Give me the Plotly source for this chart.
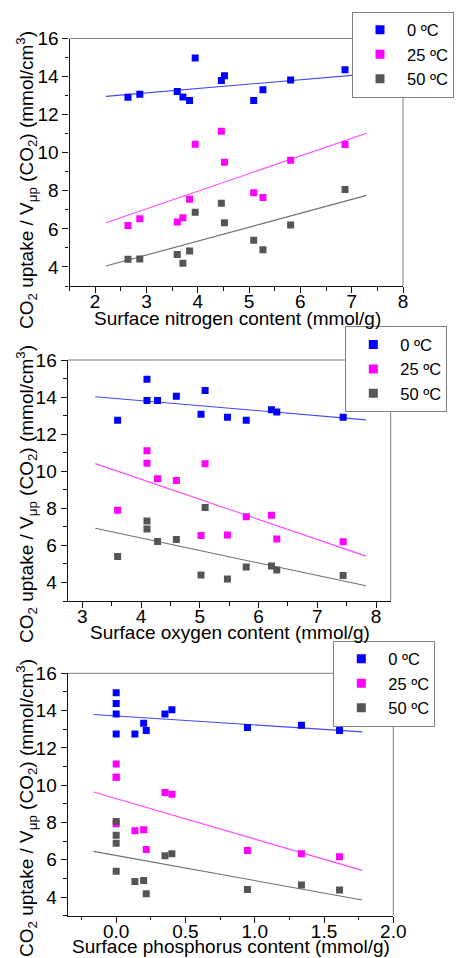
import plotly.graph_objects as go

# ---------------- data ----------------
# Panel 1: surface nitrogen content (mmol/g)
n_x = [2.64, 2.87, 3.60, 3.71, 3.84, 3.95, 4.46, 4.52, 5.09, 5.27, 5.81, 6.87]
n_0C = [12.91, 13.07, 13.21, 12.93, 12.75, 14.97, 13.80, 14.04, 12.75, 13.31, 13.82, 14.36]
n_25C = [6.18, 6.53, 6.36, 6.59, 7.56, 10.45, 11.13, 9.50, 7.90, 7.65, 9.61, 10.43]
n_50C = [4.40, 4.42, 4.66, 4.19, 4.84, 6.88, 7.34, 6.32, 5.40, 4.91, 6.20, 8.07]
n_fit_x = [2.21, 7.29]
n_fit_0C = [12.96, 14.13]
n_fit_25C = [6.32, 11.02]
n_fit_50C = [4.05, 7.76]

# Panel 2: surface oxygen content (mmol/g)
o_x = [3.60, 4.10, 4.10, 4.28, 4.60, 5.02, 5.09, 5.47, 5.79, 6.22, 6.31, 7.44]
o_0C = [12.75, 14.96, 13.81, 13.81, 14.04, 13.07, 14.35, 12.91, 12.75, 13.31, 13.20, 12.91]
o_25C = [7.90, 11.11, 10.43, 9.59, 9.50, 6.53, 10.41, 6.56, 7.55, 7.63, 6.35, 6.19]
o_50C = [5.40, 7.32, 6.89, 6.21, 6.32, 4.40, 8.05, 4.18, 4.83, 4.89, 4.67, 4.38]
o_fit_x = [3.22, 7.83]
o_fit_0C = [14.02, 12.77]
o_fit_25C = [10.41, 5.42]
o_fit_50C = [6.92, 3.82]

# Panel 3: surface phosphorus content (mmol/g)
p_x = [0.0, 0.0, 0.0, 0.0, 0.135, 0.198, 0.217, 0.352, 0.402, 0.947, 1.337, 1.612]
p_0C = [14.96, 14.38, 13.82, 12.75, 12.75, 13.32, 12.93, 13.82, 14.05, 13.09, 13.21, 12.93]
p_25C = [11.13, 10.43, 10.43, 7.93, 7.55, 7.61, 6.55, 9.61, 9.52, 6.50, 6.32, 6.16]
p_50C = [8.05, 7.32, 6.89, 5.39, 4.84, 4.89, 4.18, 6.21, 6.32, 4.41, 4.64, 4.38]
p_fit_x = [-0.164, 1.776]
p_fit_0C = [13.79, 12.86]
p_fit_25C = [9.63, 5.43]
p_fit_50C = [6.45, 3.84]

series_names = ["0 ºC", "25 ºC", "50 ºC"]
x_titles = ["Surface nitrogen content (mmol/g)",
            "Surface oxygen content (mmol/g)",
            "Surface phosphorus content (mmol/g)"]
y_title = "CO<sub>2</sub> uptake / V<sub>μp</sub> (CO<sub>2</sub>) (mmol/cm<sup>3</sup>)"

# ---------------- style ----------------
W, H = 457, 958
FONT = "Liberation Sans, Arial, sans-serif"
marker_colors = ["#0000FF", "#FF00FF", "#555555"]
line_colors = ["rgb(70,70,255)", "rgb(255,70,255)", "rgb(110,110,110)"]

panels = [
    dict(x=n_x, ys=[n_0C, n_25C, n_50C], fx=n_fit_x, fys=[n_fit_0C, n_fit_25C, n_fit_50C],
         px=(69.5, 403), py=(38.5, 286), xr=[1.5, 8], dtick=1, mdtick=0.5, fmt="",
         leg=(352, 11.5), xt=(237, 318), yt=(26, 180)),
    dict(x=o_x, ys=[o_0C, o_25C, o_50C], fx=o_fit_x, fys=[o_fit_0C, o_fit_25C, o_fit_50C],
         px=(67.7, 390.7), py=(360, 601), xr=[2.75, 8.25], dtick=1, mdtick=0.5, fmt="",
         leg=(345.3, 326.2), xt=(230, 632), yt=(26, 494)),
    dict(x=p_x, ys=[p_0C, p_25C, p_50C], fx=p_fit_x, fys=[p_fit_0C, p_fit_25C, p_fit_50C],
         px=(67.7, 393.3), py=(673.3, 915.7), xr=[-0.35, 2.0], dtick=0.5, mdtick=0.25, fmt=".1f",
         leg=(333.3, 640.5), xt=(231, 946.5), yt=(26, 808)),
]

fig = go.Figure()
layout = dict(
    width=W, height=H,
    margin=dict(l=0, r=0, t=0, b=0, autoexpand=False),
    paper_bgcolor="white", plot_bgcolor="white",
    font=dict(family=FONT, color="black"),
    showlegend=True,
)
annotations = []
shapes = []

for i, p in enumerate(panels):
    k = "" if i == 0 else str(i + 1)
    xa, ya = "x" + k, "y" + k
    lg = "legend" + k
    # fit lines
    for s in range(3):
        fig.add_trace(go.Scatter(x=p["fx"], y=p["fys"][s], mode="lines",
                                 line=dict(color=line_colors[s], width=1.1),
                                 showlegend=False, hoverinfo="skip",
                                 xaxis=xa, yaxis=ya))
    # data markers
    for s in range(3):
        fig.add_trace(go.Scatter(x=p["x"], y=p["ys"][s], mode="markers",
                                 marker=dict(symbol="square", size=7, color=marker_colors[s],
                                             line=dict(width=0)),
                                 name=series_names[s], showlegend=False,
                                 xaxis=xa, yaxis=ya))
    # legend entries
    for s in range(3):
        fig.add_trace(go.Scatter(x=[None], y=[None], mode="markers",
                                 marker=dict(symbol="square", size=9, color=marker_colors[s],
                                             line=dict(width=0)),
                                 name=series_names[s], showlegend=True, legend=lg,
                                 xaxis=xa, yaxis=ya))
    x0, x1 = p["px"]
    y0, y1 = p["py"]
    axcommon = dict(showgrid=False, zeroline=False, showline=True, linecolor="#111",
                    linewidth=1.3, ticks="outside", ticklen=6, tickwidth=1.3,
                    tickcolor="#111", tickfont=dict(size=19, family=FONT, color="black"))
    layout["xaxis" + k] = dict(
        domain=[x0 / W, x1 / W], range=p["xr"], dtick=p["dtick"], tick0=0,
        tickformat=p["fmt"], anchor=ya, ticklabelstandoff=-8,
        minor=dict(dtick=p["mdtick"], ticks="outside", ticklen=3.5, tickwidth=1.3,
                   tickcolor="#111", showgrid=False),
        **axcommon)
    layout["yaxis" + k] = dict(
        domain=[1 - y1 / H, 1 - y0 / H], range=[3, 16], dtick=2, tick0=0, anchor=xa,
        minor=dict(dtick=1, ticks="outside", ticklen=3.5, tickwidth=1.3,
                   tickcolor="#111", showgrid=False),
        **axcommon)
    # top / right frame
    shapes.append(dict(type="line", xref=xa + " domain", yref=ya + " domain",
                       x0=0, x1=1, y0=1, y1=1, line=dict(color="#808080", width=1)))
    shapes.append(dict(type="line", xref=xa + " domain", yref=ya + " domain",
                       x0=1, x1=1, y0=0, y1=1, line=dict(color="#808080", width=1)))
    # legend
    lx, ly = p["leg"]
    layout[lg] = dict(x=lx / W, y=1 - ly / H, xanchor="left", yanchor="top",
                      bgcolor="white", bordercolor="#808080", borderwidth=1,
                      font=dict(size=16.5, family=FONT, color="black"),
                      itemwidth=44, tracegroupgap=0, orientation="v")
    # axis titles
    tx, ty = p["xt"]
    annotations.append(dict(text=x_titles[i], xref="paper", yref="paper",
                            x=tx / W, y=1 - ty / H, xanchor="center", yanchor="middle",
                            showarrow=False, font=dict(size=19, family=FONT, color="black")))
    yx, yy = p["yt"]
    annotations.append(dict(text=y_title, xref="paper", yref="paper",
                            x=yx / W, y=1 - yy / H, xanchor="center", yanchor="middle",
                            textangle=-90, showarrow=False,
                            font=dict(size=19, family=FONT, color="black")))

layout["annotations"] = annotations
layout["shapes"] = shapes
fig.update_layout(**layout)
fig.write_html("out.html", config={"displayModeBar": False},
               post_script="document.body.style.margin='0px';")
